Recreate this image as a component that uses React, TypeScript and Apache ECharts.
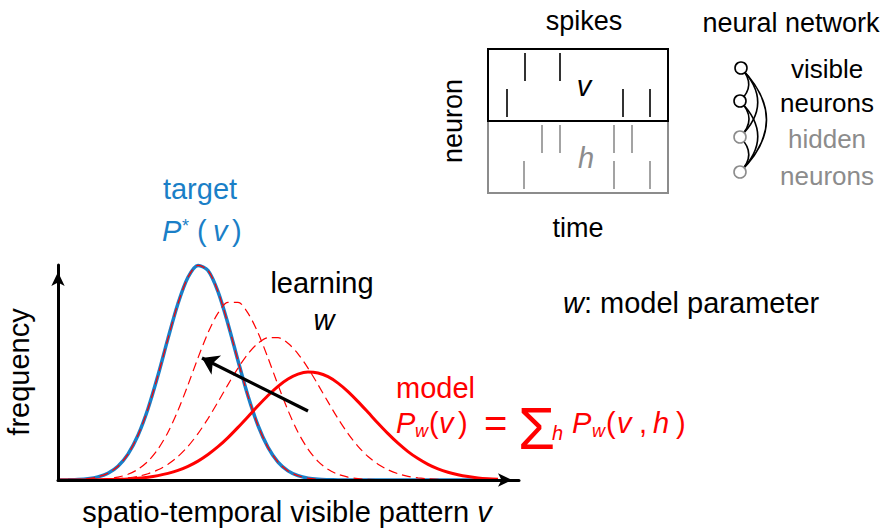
import React, { useEffect, useRef } from 'react';
import * as echarts from 'echarts';

// ---------- data ----------
// sample positions along the "spatio-temporal visible pattern" axis
const curveX = [0, 10, 20, 30, 40, 50, 60, 70, 80, 90, 100, 110, 120, 130, 140, 150, 160, 170, 180, 190, 200, 210, 220, 230, 240, 250, 260, 270, 280, 290, 300, 310, 320, 330, 340, 350, 360, 370, 380, 390, 400, 410, 420, 430, 440];
// target distribution P*(v)
const targetFreq = [0, 0.2, 0.5, 1.3, 3.1, 6.8, 13.8, 25.9, 44.8, 71.3, 104.7, 141.6, 176.5, 202.7, 214.6, 209.5, 188.4, 156.1, 119.3, 84.0, 54.5, 32.6, 17.9, 9.1, 4.3, 1.8, 0.7, 0.3, 0.1, 0, 0, 0, 0, 0, 0, 0, 0, 0, 0, 0, 0, 0, 0, 0, 0];
// intermediate learning steps
const learningStep1 = [0, 0, 0.1, 0.3, 0.6, 1.4, 2.9, 5.7, 10.7, 18.7, 30.9, 47.8, 69.6, 95.1, 122.1, 147.2, 166.8, 177.6, 177.6, 166.8, 147.2, 122.1, 95.1, 69.6, 47.8, 30.9, 18.7, 10.7, 5.7, 2.9, 1.4, 0.6, 0.3, 0.1, 0, 0, 0, 0, 0, 0, 0, 0, 0, 0, 0];
const learningStep2 = [0, 0, 0.1, 0.2, 0.3, 0.6, 1.2, 2.1, 3.7, 6.3, 10.2, 15.8, 23.5, 33.7, 46.4, 61.4, 78.1, 95.4, 111.9, 126.2, 136.7, 142.3, 142.3, 136.7, 126.2, 111.9, 95.4, 78.1, 61.4, 46.4, 33.7, 23.5, 15.8, 10.2, 6.3, 3.7, 2.1, 1.2, 0.6, 0.3, 0.2, 0.1, 0, 0, 0];
// model distribution P_w(v)
const modelFreq = [0, 0, 0.1, 0.1, 0.2, 0.4, 0.7, 1.1, 1.8, 2.8, 4.4, 6.6, 9.6, 13.7, 18.9, 25.5, 33.3, 42.4, 52.6, 63.3, 74.2, 84.5, 93.7, 101.0, 105.9, 108.0, 107.0, 103.3, 96.9, 88.4, 78.4, 67.7, 56.8, 46.4, 36.8, 28.4, 21.4, 15.6, 11.1, 7.7, 5.2, 3.4, 2.1, 1.3, 0.8];
// learning arrow: from model towards target
const learningArrow = [[250, 69], [144, 122]];

// spike raster: spike times per neuron row
const visibleSpikeRows = [[37, 72], [19, 135, 162]];
const hiddenSpikeRows = [[54, 72, 126, 144], [36, 126, 162]];

// neural network nodes (x, y) and all-to-all links
const nodeNames = ['v1', 'v2', 'h1', 'h2'];
const nodeX = [41, 40, 40, 40];
const nodeY = [28, 61, 97, 132];
const nodeVisible = [true, true, false, false];
const networkLinks = [[0, 1], [0, 2], [0, 3], [1, 2], [1, 3], [2, 3]];

// ---------- styles ----------
const FONT = '"Liberation Sans", Arial, Helvetica, sans-serif';
const BLUE = '#1a7fc7';
const RED = '#ff0000';
const GRAY = '#8c8c8c';

type Piece = { t: string; x: number; y: number; s?: number; it?: boolean; c?: string; a?: string; r?: number; f?: string; sc?: number };
function txt(p: Piece): any {
  return {
    type: 'text',
    x: p.x,
    y: p.y,
    rotation: p.r || 0,
    scaleX: p.sc || 1,
    scaleY: p.sc || 1,
    z: 20,
    silent: true,
    style: {
      text: p.t,
      fill: p.c || '#000',
      fontSize: p.s || 29,
      fontFamily: p.f || FONT,
      fontStyle: p.it ? 'italic' : 'normal',
      align: p.a || 'left',
      verticalAlign: 'middle',
    },
  };
}

function pairs(xs: number[], ys: number[]) {
  return xs.map((x, i) => [x, ys[i]]);
}

function spikeData(rows: number[][]) {
  const out: number[][] = [];
  rows.forEach((row, r) => row.forEach((t) => out.push([t, r + 0.5])));
  return out;
}

export default function App() {
  const ref = useRef<HTMLDivElement>(null);
  useEffect(() => {
    if (!ref.current) return;
    const chart = echarts.init(ref.current, null, { renderer: 'svg' });
    const hiddenAxis = { show: false };
    const arrowAxisLine = {
      show: true,
      onZero: false,
      lineStyle: { color: '#000', width: 3 },
      symbol: ['none', 'arrow'],
      symbolSize: [10, 14],
      symbolOffset: [0, -7],
    };
    const texts: any[] = [
      // spikes panel
      txt({ t: 'spikes', x: 584, y: 21, s: 27, a: 'center' }),
      txt({ t: 'neuron', x: 453, y: 121, s: 27, a: 'center', r: Math.PI / 2 }),
      txt({ t: 'time', x: 578, y: 228, s: 27, a: 'center' }),
      txt({ t: 'v', x: 584, y: 86, s: 29, it: true, a: 'center' }),
      txt({ t: 'h', x: 586, y: 158, s: 29, it: true, a: 'center', c: GRAY }),
      // network panel
      txt({ t: 'neural network', x: 791, y: 23, s: 27, a: 'center' }),
      txt({ t: 'visible', x: 827, y: 69, s: 26, a: 'center' }),
      txt({ t: 'neurons', x: 827, y: 103, s: 26, a: 'center' }),
      txt({ t: 'hidden', x: 827, y: 139, s: 26, a: 'center', c: GRAY }),
      txt({ t: 'neurons', x: 827, y: 176, s: 26, a: 'center', c: GRAY }),
      // target label
      txt({ t: 'target', x: 200, y: 189, a: 'center', c: BLUE }),
      txt({ t: 'P', x: 162, y: 231, it: true, c: BLUE }),
      txt({ t: '*', x: 182, y: 226, s: 18, c: BLUE }),
      txt({ t: '(', x: 197, y: 231, c: BLUE }),
      txt({ t: 'v', x: 213, y: 231, it: true, c: BLUE }),
      txt({ t: ')', x: 232, y: 231, c: BLUE }),
      // learning label
      txt({ t: 'learning', x: 322, y: 283, a: 'center' }),
      txt({ t: 'w', x: 324, y: 320, it: true, a: 'center' }),
      // parameter label
      {
        type: 'text', x: 563, y: 303, z: 20, silent: true,
        style: {
          text: '{i|w}{n|: model parameter}',
          verticalAlign: 'middle', align: 'left',
          rich: {
            i: { fontSize: 29, fontFamily: FONT, fontStyle: 'italic', fill: '#000' },
            n: { fontSize: 29, fontFamily: FONT, fill: '#000' },
          },
        },
      },
      // model label + formula
      txt({ t: 'model', x: 396, y: 388, c: RED }),
      txt({ t: 'P', x: 396, y: 423, it: true, c: RED }),
      txt({ t: 'w', x: 415, y: 431, s: 18, it: true, c: RED }),
      txt({ t: '(', x: 429, y: 423, c: RED }),
      txt({ t: 'v', x: 439, y: 423, it: true, c: RED }),
      txt({ t: ')', x: 458, y: 423, c: RED }),
      txt({ t: '=', x: 484, y: 423, s: 40, c: RED }),
      txt({ t: 'Σ', x: 518, y: 428, s: 40, c: RED, sc: 1.5 }),
      txt({ t: 'h', x: 552, y: 433, s: 20, it: true, c: RED }),
      txt({ t: 'P', x: 572, y: 423, it: true, c: RED }),
      txt({ t: 'w', x: 592, y: 431, s: 18, it: true, c: RED }),
      txt({ t: '(', x: 606, y: 423, c: RED }),
      txt({ t: 'v', x: 617, y: 423, it: true, c: RED }),
      txt({ t: ',', x: 639, y: 423, c: RED }),
      txt({ t: 'h', x: 653, y: 423, it: true, c: RED }),
      txt({ t: ')', x: 676, y: 423, c: RED }),
      // axis titles
      txt({ t: 'frequency', x: 19, y: 372, a: 'center', r: Math.PI / 2 }),
      {
        type: 'text', x: 287, y: 512, z: 20, silent: true,
        style: {
          text: '{n|spatio-temporal visible pattern }{i|v}',
          verticalAlign: 'middle', align: 'center',
          rich: {
            i: { fontSize: 29, fontFamily: FONT, fontStyle: 'italic', fill: '#000' },
            n: { fontSize: 29, fontFamily: FONT, fill: '#000' },
          },
        },
      },
    ];

    const option: any = {
      animation: false,
      backgroundColor: '#ffffff',
      grid: [
        { left: 58, top: 265, width: 461, height: 215, show: false },
        { left: 488, top: 49, width: 180, height: 72, show: true, borderColor: '#000', borderWidth: 2, backgroundColor: 'transparent', z: 4 },
        { left: 488, top: 121, width: 180, height: 72, show: true, borderColor: GRAY, borderWidth: 2, backgroundColor: 'transparent', z: 3 },
        { left: 700, top: 40, width: 100, height: 160, show: false },
      ],
      xAxis: [
        { type: 'value', gridIndex: 0, min: 0, max: 461, axisLine: arrowAxisLine, axisTick: { show: false }, axisLabel: { show: false }, splitLine: { show: false }, z: 6 },
        { type: 'value', gridIndex: 1, min: 0, max: 180, ...hiddenAxis },
        { type: 'value', gridIndex: 2, min: 0, max: 180, ...hiddenAxis },
        { type: 'value', gridIndex: 3, min: 0, max: 100, ...hiddenAxis },
      ],
      yAxis: [
        { type: 'value', gridIndex: 0, min: 0, max: 215, axisLine: arrowAxisLine, axisTick: { show: false }, axisLabel: { show: false }, splitLine: { show: false }, z: 6 },
        { type: 'value', gridIndex: 1, min: 0, max: 2, inverse: true, ...hiddenAxis },
        { type: 'value', gridIndex: 2, min: 0, max: 2, inverse: true, ...hiddenAxis },
        { type: 'value', gridIndex: 3, min: 0, max: 160, inverse: true, ...hiddenAxis },
      ],
      series: [
        {
          name: 'target', type: 'line', xAxisIndex: 0, yAxisIndex: 0, data: pairs(curveX, targetFreq),
          showSymbol: false, smooth: 0.3, clip: false, silent: true,
          lineStyle: { color: BLUE, width: 3.5 }, z: 2,
        },
        {
          name: 'target-overlay', type: 'line', xAxisIndex: 0, yAxisIndex: 0, data: pairs(curveX, targetFreq),
          showSymbol: false, smooth: 0.3, clip: false, silent: true,
          lineStyle: { color: RED, width: 1.2, type: [9, 5] }, z: 3,
        },
        {
          name: 'step1', type: 'line', xAxisIndex: 0, yAxisIndex: 0, data: pairs(curveX, learningStep1),
          showSymbol: false, smooth: 0.3, clip: false, silent: true,
          lineStyle: { color: RED, width: 1.2, type: [9, 5] }, z: 3,
        },
        {
          name: 'step2', type: 'line', xAxisIndex: 0, yAxisIndex: 0, data: pairs(curveX, learningStep2),
          showSymbol: false, smooth: 0.3, clip: false, silent: true,
          lineStyle: { color: RED, width: 1.2, type: [9, 5] }, z: 3,
        },
        {
          name: 'model', type: 'line', xAxisIndex: 0, yAxisIndex: 0, data: pairs(curveX, modelFreq),
          showSymbol: false, smooth: 0.3, clip: false, silent: true,
          lineStyle: { color: RED, width: 3 }, z: 4,
        },
        {
          name: 'arrow', type: 'lines', coordinateSystem: 'cartesian2d', xAxisIndex: 0, yAxisIndex: 0,
          symbol: ['none', 'arrow'], symbolSize: 16, silent: true, z: 8,
          lineStyle: { color: '#000', width: 3.2, opacity: 1, curveness: 0 },
          data: [{ coords: learningArrow }],
        },
        {
          name: 'visible spikes', type: 'scatter', xAxisIndex: 1, yAxisIndex: 1, data: spikeData(visibleSpikeRows),
          symbol: 'rect', symbolSize: [2, 28], itemStyle: { color: '#000' }, silent: true,
        },
        {
          name: 'hidden spikes', type: 'scatter', xAxisIndex: 2, yAxisIndex: 2, data: spikeData(hiddenSpikeRows),
          symbol: 'rect', symbolSize: [2, 28], itemStyle: { color: GRAY }, silent: true,
        },
        {
          name: 'network', type: 'graph', coordinateSystem: 'cartesian2d', xAxisIndex: 3, yAxisIndex: 3,
          layout: 'none', silent: true, symbol: 'circle', symbolSize: 12,
          data: nodeNames.map((n, i) => ({
            name: n, value: [nodeX[i], nodeY[i]],
            itemStyle: { color: '#fff', borderColor: nodeVisible[i] ? '#000' : GRAY, borderWidth: 1.6 },
          })),
          links: networkLinks.map(([s, t]) => ({ source: s, target: t })),
          lineStyle: { color: '#000', width: 1.6, curveness: 0.5, opacity: 1 },
          label: { show: false },
          emphasis: { disabled: true },
        },
      ],
      graphic: { elements: texts },
    };
    chart.setOption(option);
    return () => chart.dispose();
  }, []);
  return <div ref={ref} style={{ position: 'fixed', left: 0, top: 0, width: 891, height: 529 }} />;
}
